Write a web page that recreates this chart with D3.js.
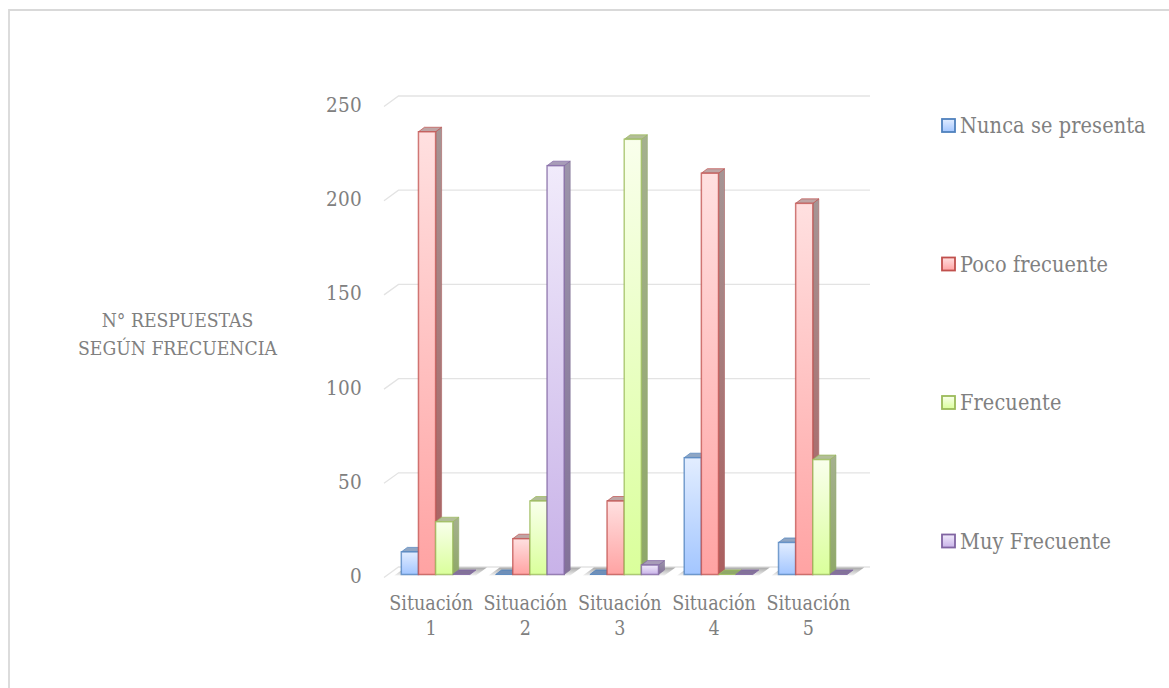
<!DOCTYPE html>
<html><head><meta charset="utf-8">
<script src="https://cdn.jsdelivr.net/npm/d3@7"></script>
<style>html,body{margin:0;padding:0;background:#fff}svg{display:block}text{font-family:"DejaVu Serif Condensed","DejaVu Serif",serif;fill:#808080}</style>
</head><body><svg id="c" width="1169" height="688"></svg>
<script>
const categories=[["Situación","1"],["Situación","2"],["Situación","3"],["Situación","4"],["Situación","5"]];
const seriesNames=["Nunca se presenta","Poco frecuente","Frecuente","Muy Frecuente"];
const nunca=[12,0,0,62,17];
const poco=[235,19,39,213,197];
const frecuente=[28,39,231,0,61];
const muy=[0,217,5,0,0];
const yTicks=[0,50,100,150,200,250];
const yTitle=["N° RESPUESTAS","SEGÚN FRECUENCIA"];
const seriesValues=[nunca,poco,frecuente,muy];
const palette=[
 {s:"#4f81bd",a:"#e2edff",b:"#a3c6ff",sa:"#9aa8bc",sb:"#6f8fb8",t:"#8fa6c4"},
 {s:"#c0504d",a:"#ffe0e0",b:"#ffa3a3",sa:"#a59595",sb:"#ab5f5f",t:"#bfa5a5"},
 {s:"#9bbb59",a:"#f9ffec",b:"#daff9b",sa:"#a5b08f",sb:"#8fa868",t:"#b2bd98"},
 {s:"#8064a2",a:"#f1ebfb",b:"#c8b2e8",sa:"#9c94aa",sb:"#837299",t:"#a89cb8"}];
const dx=6,dy=4.5;
const svg=d3.select("#c");
const defs=svg.append("defs");
palette.forEach((p,i)=>{
 const g=(id,a,b)=>{const l=defs.append("linearGradient").attr("id",id).attr("x1",0).attr("y1",0).attr("x2",0).attr("y2",1);
  l.append("stop").attr("offset",0).attr("stop-color",a);l.append("stop").attr("offset",1).attr("stop-color",b);};
 g("f"+i,p.a,p.b);g("s"+i,p.sa,p.sb);
});
const floorG=defs.append("linearGradient").attr("id","floor").attr("x1",0).attr("y1",0).attr("x2",0).attr("y2",1);
floorG.append("stop").attr("offset",0).attr("stop-color","#a8a8a8");
floorG.append("stop").attr("offset",1).attr("stop-color","#f0f0f0");

svg.append("path").attr("d","M9,688V10H1169").attr("fill","none").attr("stroke","#d9d9d9").attr("stroke-width",1.8);

const y=d3.scaleLinear().domain([0,250]).range([574.5,103.5]);
const x0=d3.scaleBand().domain(d3.range(categories.length)).range([384,855.5]);
const x1=d3.scaleBand().domain(d3.range(seriesNames.length)).range([17.3,17.3+68.6]);
const gridL=384,gridB=396.5,gridR=870;

const grid=svg.append("g");
yTicks.forEach(v=>{
 const yb=y(v)-7.5;
 grid.append("path").attr("d",`M${gridL},${y(v)+3}L${gridB+2},${yb}L${gridR},${yb}`).attr("fill","none").attr("stroke","#e3e3e3").attr("stroke-width",1.3);
});
d3.range(categories.length).forEach(c=>{
 const l=x0(c)+x1(0),r=x0(c)+x1(3)+x1.bandwidth();
 svg.append("path").attr("d",`M${l-7},${y(0)+1}L${l+4},${y(0)-7}L${r+17},${y(0)-7}L${r+6},${y(0)+1}Z`).attr("fill","url(#floor)");
});

const bars=svg.append("g");
categories.forEach((_,c)=>{
 seriesValues.forEach((vals,s)=>{
  const v=vals[c],p=palette[s],l=x0(c)+x1(s),w=x1.bandwidth(),r=l+w,t=y(v),b=y(0);
  const g=bars.append("g");
  if(v===0){
   g.append("path").attr("d",`M${l},${b}L${r},${b}L${r+dx},${b-dy}L${l+dx},${b-dy}Z`).attr("fill",p.sb).attr("stroke",p.s).attr("stroke-width",.8);
   return;
  }
  g.append("path").attr("d",`M${r},${t}L${r+dx},${t-dy}L${r+dx},${b-dy}L${r},${b}Z`).attr("fill",`url(#s${s})`).attr("stroke",p.sb).attr("stroke-width",.6);
  g.append("path").attr("d",`M${l},${t}L${r},${t}L${r+dx},${t-dy}L${l+dx},${t-dy}Z`).attr("fill",p.t).attr("stroke",p.s).attr("stroke-opacity",.7).attr("stroke-width",1);
  g.append("rect").attr("x",l).attr("y",t).attr("width",w).attr("height",b-t).attr("fill",`url(#f${s})`).attr("stroke",p.s).attr("stroke-opacity",.75).attr("stroke-width",1.5);
 });
});

const yAxis=svg.append("g").attr("transform","translate(362,1.5)").call(d3.axisLeft(y).tickValues(yTicks).tickSize(0).tickPadding(0));
yAxis.select(".domain").remove();
yAxis.selectAll("text").attr("style","font-family:'DejaVu Serif Condensed','DejaVu Serif',serif;fill:#808080;font-size:20.5px").attr("letter-spacing",.3);

categories.forEach((lines,c)=>{
 lines.forEach((t,i)=>svg.append("text").attr("x",x0(c)+x0.bandwidth()/2).attr("y",610+i*25).attr("text-anchor","middle").attr("font-size",19.5).attr("letter-spacing",0).text(t));
});
yTitle.forEach((t,i)=>svg.append("text").attr("x",177.5).attr("y",327+i*28).attr("text-anchor","middle").attr("font-size",19.2).attr("letter-spacing",0).text(t));
const legY=d3.scalePoint().domain(seriesNames).range([125,540.5]);
seriesNames.forEach((n,i)=>{
 const p=palette[i],yy=legY(n);
 svg.append("rect").attr("x",942).attr("y",yy-6).attr("width",13).attr("height",13).attr("fill",`url(#f${i})`).attr("stroke",p.s).attr("stroke-width",1.8);
 svg.append("text").attr("x",960).attr("y",yy+8).attr("font-size",21.5).attr("letter-spacing",.1).text(n);
});
</script></body></html>
